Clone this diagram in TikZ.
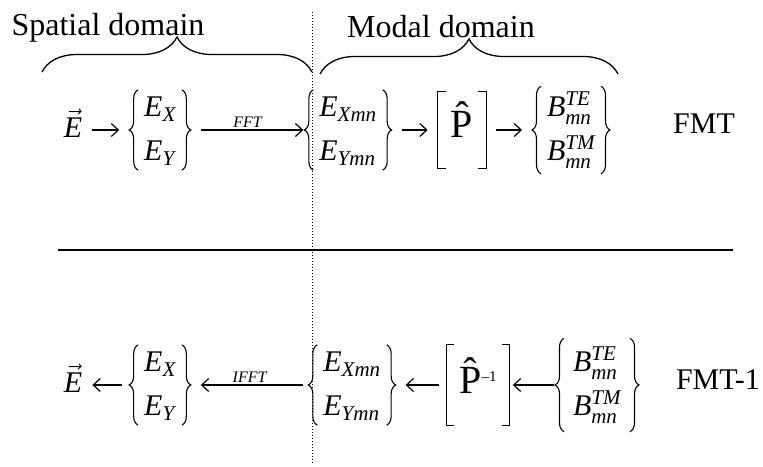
\RequirePackage{fix-cm}
\documentclass[tikz,border=0pt]{standalone}
\usepackage{amsmath}
\usepackage[no-math]{fontspec}
\setmainfont{Liberation Serif}
\usetikzlibrary{arrows.meta,decorations.pathreplacing}

\begin{document}
\begin{tikzpicture}[
    x=1pt, y=-1pt,
    term/.style={inner sep=0pt, text height=46pt, text depth=31pt, font=\fontsize{30}{44}\selectfont},
    vpair/.style={term, inner xsep=6pt, outer xsep=9pt, text height=47.5pt, text depth=32.5pt},
    pmat/.style={term, inner xsep=13pt},
    title/.style={inner sep=0pt, anchor=base, font=\fontsize{32}{38}\selectfont},
    tag/.style={inner sep=0pt, font=\fontsize{30}{36}\selectfont},
    op/.style={inner sep=0pt, font=\fontsize{16}{18}\selectfont\itshape},
    arrow/.style={-{Straight Barb[length=7pt,width=13pt]}, line width=1.2pt, shorten <=10pt, shorten >=10pt},
    dombrace/.style={decorate, decoration={brace, amplitude=35pt}, line width=1.3pt},
    sidebrace/.style={decorate, decoration={brace, amplitude=9pt}, line width=1.1pt},
    bracket/.style={line width=1.3pt},
]
\useasboundingbox (0,0) rectangle (763,466);

% ====== Domains ======
\coordinate (spaL) at (42,72);
\coordinate (spaR) at (312,72);
\coordinate (modL) at (320,74);
\coordinate (modR) at (618,74);
\draw[dombrace] (spaL) -- (spaR);
\draw[dombrace] (modL) -- (modR);
\node[title] (spatial) at (108,35) {Spatial domain};
\node[title] (modal) at (441,37) {Modal domain};

% divider
\coordinate (divT) at (312,12);
\coordinate (divB) at (312,463);
\draw[dotted, line width=1pt] (divT) -- (divB);

\coordinate (ruleL) at (58,250);
\coordinate (ruleR) at (733,250);
\draw[line width=1.2pt] (ruleL) -- (ruleR);

% ====== FMT ======
\node[term] (fE) at (73,130) {$\vec{\textit{E}}$};
\node[vpair] (fExy) at (160,130) {$\begin{array}{@{}l@{}}\textit{E}_{\textit{X}}\\ \textit{E}_{\textit{Y}}\end{array}$};
\node[vpair] (fEmn) at (348,130) {$\begin{array}{@{}l@{}}\textit{E}_{\textit{Xmn}}\\ \textit{E}_{\textit{Ymn}}\end{array}$};
\node[pmat] (fP) at (462,130) {\fontsize{40}{40}\selectfont\^{P}};
\node[vpair, text height=51pt, text depth=36pt] (fB) at (571,130) {$\begin{array}{@{}l@{}}\textit{B}^{\textit{TE}}_{\textit{mn}}\\ \textit{B}^{\textit{TM}}_{\textit{mn}}\end{array}$};
\node[tag] (fmt) at (704,124) {FMT};

\draw[arrow] (fE) -- (fExy);
\draw[arrow, shorten >=1pt] (fExy) -- node[op, above=2pt] (fft) {FFT} (fEmn);
\draw[arrow] (fEmn) -- (fP);
\draw[arrow] (fP) -- (fB);

% ====== FMT-1 ======
\node[term] (bE) at (73,385) {$\vec{\textit{E}}$};
\node[vpair] (bExy) at (160,385) {$\begin{array}{@{}l@{}}\textit{E}_{\textit{X}}\\ \textit{E}_{\textit{Y}}\end{array}$};
\node[vpair] (bEmn) at (352,385) {$\begin{array}{@{}l@{}}\textit{E}_{\textit{Xmn}}\\ \textit{E}_{\textit{Ymn}}\end{array}$};
\node[pmat, text height=48pt, text depth=32pt] (bP) at (478,385) {\fontsize{40}{40}\selectfont\^{P}\fontsize{15}{15}\selectfont\raisebox{12pt}{\textendash1}};
\node[vpair, inner xsep=9pt, text height=54pt, text depth=39pt] (bB) at (597,385) {$\begin{array}{@{}l@{}}\textit{B}^{\textit{TE}}_{\textit{mn}}\\ \textit{B}^{\textit{TM}}_{\textit{mn}}\end{array}$};
\node[tag] (fmti) at (718,380) {FMT-1};

\draw[arrow, shorten <=1pt, shorten >=3pt] (bB) -- (bP);
\draw[arrow, shorten <=7pt] (bP) -- (bEmn);
\draw[arrow, shorten <=5pt] (bEmn) -- node[op, above=2pt] (ifft) {IFFT} (bExy);
\draw[arrow, shorten <=7pt] (bExy) -- (bE);

% ====== Delimiters ======
\foreach \n in {fExy,fEmn,fB,bExy,bEmn,bB} {
  \draw[sidebrace] ([xshift=9pt]\n.south west) -- ([xshift=9pt]\n.north west);
  \draw[sidebrace] ([xshift=-9pt]\n.north east) -- ([xshift=-9pt]\n.south east);
}
\foreach \n in {fP,bP} {
  \draw[bracket] ([xshift=8pt]\n.north west) -- (\n.north west) -- (\n.south west) -- ([xshift=8pt]\n.south west);
  \draw[bracket] ([xshift=-8pt]\n.north east) -- (\n.north east) -- (\n.south east) -- ([xshift=-8pt]\n.south east);
}

\end{tikzpicture}
\end{document}
